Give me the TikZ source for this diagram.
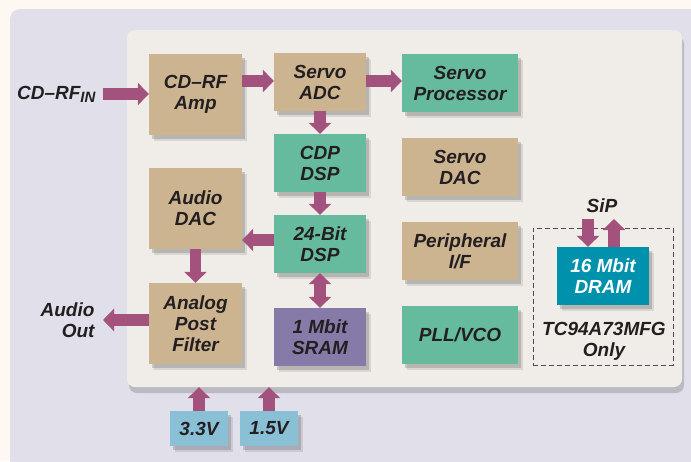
\documentclass[tikz,border=0pt]{standalone}
\usepackage{fontspec}
\setmainfont{Liberation Sans}
\usetikzlibrary{arrows.meta,shadows}
\definecolor{tan}{RGB}{205,180,145}
\definecolor{grn}{RGB}{102,187,158}
\definecolor{purp}{RGB}{133,122,168}
\definecolor{teal2}{RGB}{0,145,172}
\definecolor{ltblue}{RGB}{137,192,214}
\definecolor{lav}{RGB}{224,223,234}
\definecolor{panelc}{RGB}{240,237,232}
\definecolor{outerc}{RGB}{255,247,242}
\definecolor{arr}{RGB}{162,82,124}
\definecolor{txt}{RGB}{35,31,32}
\tikzset{
  lbl/.style={font=\fontsize{19}{21}\selectfont\bfseries\itshape, text=txt, align=center},
  blk/.style={lbl, inner sep=0pt,
    drop shadow={shadow xshift=5pt, shadow yshift=-6pt, opacity=0.12, fill=black!80},
    drop shadow={shadow xshift=3pt, shadow yshift=-4pt, opacity=0.2, fill=black!80}},
  wide/.style={blk, minimum width=116pt, minimum height=58pt},
  mid/.style={blk, minimum width=92pt, minimum height=58pt},
  tall/.style={blk, minimum width=93pt, minimum height=81pt},
  volt/.style={blk, fill=ltblue, minimum width=58pt, minimum height=35pt},
  bigarrow/.style={draw=arr, line width=11.5pt, -{Triangle[width=22pt,length=11pt]}},
  dblarrow/.style={draw=arr, line width=11.5pt, {Triangle[width=22pt,length=11pt]}-{Triangle[width=22pt,length=11pt]}},
}
\begin{document}
\begin{tikzpicture}[x=1pt,y=-1pt]
\useasboundingbox (0,0) rectangle (691,461);
\fill[outerc] (0,0) rectangle (691,461);
\fill[lav, rounded corners=10pt] (10,9) rectangle (710,470);
% panel
\node[fill=panelc, rounded corners=8pt, minimum width=555pt, minimum height=357pt, inner sep=0pt,
  drop shadow={shadow xshift=2pt, shadow yshift=-6pt, opacity=0.3, fill=black!60}] (panel) at (404.5,208.5) {};
% blocks
\node[tall, fill=tan] (amp) at (195.5,94.5) {CD–RF\\Amp};
\node[mid, fill=tan] (adc) at (320,82) {Servo\\ADC};
\node[wide, fill=grn] (proc) at (460,83) {Servo\\Processor};
\node[mid, fill=grn] (cdp) at (320,163) {CDP\\DSP};
\node[wide, fill=tan] (sdac) at (460,167) {Servo\\DAC};
\node[mid, fill=grn] (dsp) at (320,244) {24-Bit\\DSP};
\node[wide, fill=tan] (perif) at (460,251) {Peripheral\\I/F};
\node[mid, fill=purp] (sram) at (320,337) {1 Mbit\\SRAM};
\node[wide, fill=grn] (pll) at (460,335) {PLL/VCO};
\node[tall, fill=tan] (adac) at (195.5,208.5) {Audio\\DAC};
\node[tall, fill=tan] (apf) at (195.5,323.5) {Analog\\Post\\Filter};
% SiP region
\node[draw=black!70, dashed, dash pattern=on 5pt off 3pt, minimum width=140pt, minimum height=137pt, inner sep=0pt] (sipbox) at (603,296.5) {};
\node[mid, fill=teal2, text=white] (dram) at (603,276) {16 Mbit\\DRAM};
\node[lbl] (sip) at (602,206) {SiP};
\node[lbl] (only) at (604,341) {TC94A73MFG\\Only};
\coordinate (sipdn) at (588,219);
\coordinate (sipup) at (614,219);
% voltages
\node[volt] (v33) at (199,428.5) {3.3V};
\node[volt] (v15) at (269,428.5) {1.5V};
% external labels
\node[lbl, anchor=east] (rfin) at (99,94) {CD–RF\raisebox{-3pt}{\fontsize{15}{15}\selectfont IN}};
\coordinate (rfinend) at (103,94);
\node[lbl, anchor=east, align=right] (aout) at (98,320) {Audio\\Out};
\coordinate (aoutend) at (103,320);
% arrows
\draw[bigarrow] (rfinend) -- (amp.west |- rfinend);
\draw[bigarrow] (amp.east |- 0,81) -- (adc.west |- 0,81);
\draw[bigarrow] (adc.east |- 0,81) -- (proc.west |- 0,81);
\draw[bigarrow] (adc.south) -- (cdp.north);
\draw[bigarrow] (cdp.south) -- (dsp.north);
\draw[bigarrow] (dsp.west |- 0,240) -- (adac.east |- 0,240);
\draw[bigarrow] (adac.south) -- (apf.north);
\draw[bigarrow] (apf.west |- aoutend) -- (aoutend);
\draw[dblarrow] (dsp.south) -- (sram.north);
\draw[bigarrow] (v33.north) -- (v33.north |- panel.south);
\draw[bigarrow] (v15.north) -- (v15.north |- panel.south);
\draw[bigarrow] (sipdn) -- (sipdn |- dram.north);
\draw[bigarrow] (sipup |- dram.north) -- (sipup);
\end{tikzpicture}
\end{document}
